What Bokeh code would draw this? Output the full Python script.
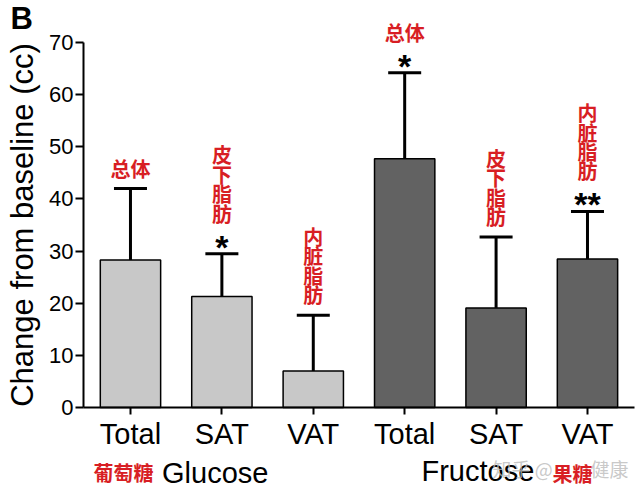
from bokeh.plotting import figure
from bokeh.models import (ColumnDataSource, Range1d, FixedTicker, LabelSet, Label,
                          Whisker, TeeHead)
from bokeh.core.properties import value
from bokeh.embed import file_html
from bokeh.resources import INLINE

# ---- data ----
categories = ["Total", "SAT", "VAT", "Total", "SAT", "VAT"]
groups = ["Glucose", "Glucose", "Glucose", "Fructose", "Fructose", "Fructose"]
means = [28.3, 21.3, 7.0, 47.7, 19.1, 28.5]
upper = [42.0, 29.5, 17.7, 64.2, 32.7, 37.6]
stars = ["", "*", "", "*", "", "**"]
notes = ["总体", "皮下脂肪", "内脏脂肪", "总体", "皮下脂肪", "内脏脂肪"]
group_names = ["Glucose", "Fructose"]
group_cn = ["葡萄糖", "果糖"]
y_ticks = [0, 10, 20, 30, 40, 50, 60, 70]

LATIN = "Liberation Sans"
CJK = "Noto Sans CJK SC"
RED = "#d81e24"

xs = list(range(len(categories)))
colors = ["#c8c8c8" if g == "Glucose" else "#626262" for g in groups]
note_text = ["\n".join(n) if len(n) > 2 else n for n in notes]
note_off = [26 if s else 6 for s in stars]

src = ColumnDataSource(dict(x=xs, top=means, upper=upper, color=colors,
                            note=note_text, note_off=note_off, star=stars))

X0, X1 = -0.514, 5.514   # extent of the drawn x axis
p = figure(width=640, height=495, x_range=Range1d(-1.422, 5.580), y_range=Range1d(-16.88, 78.06),
           output_backend="svg", toolbar_location=None,
           min_border_left=0, min_border_right=0, min_border_top=0, min_border_bottom=0)
p.outline_line_color = None
p.xgrid.visible = False
p.ygrid.visible = False
p.background_fill_color = "white"
p.border_fill_color = "white"

p.vbar(x="x", top="top", bottom=0, width=0.66, source=src, fill_color="color",
       line_color="black", line_width=1.5)

p.add_layout(Whisker(source=src, base="x", lower="top", upper="upper", dimension="height",
                     line_width=3, line_color="black",
                     upper_head=TeeHead(size=33, line_width=3, line_color="black"),
                     lower_head=None))

# axes
xa = p.xaxis[0]
xa.fixed_location = 0
xa.bounds = (X0, X1)
xa.ticker = FixedTicker(ticks=xs)
xa.major_label_overrides = {i: c for i, c in enumerate(categories)}
xa.major_label_text_font = LATIN
xa.major_label_text_font_size = "29px"
xa.major_label_text_color = "black"
xa.major_tick_out = 7
xa.major_tick_in = 0
xa.minor_tick_out = 0
xa.minor_tick_in = 0
xa.axis_line_width = 2
xa.major_tick_line_width = 2
xa.major_label_standoff = 4

ya = p.yaxis[0]
ya.fixed_location = X0
ya.bounds = (0, 70)
ya.ticker = FixedTicker(ticks=y_ticks)
ya.major_label_text_font = LATIN
ya.major_label_text_font_size = "22px"
ya.major_label_text_color = "black"
ya.major_tick_out = 8
ya.major_tick_in = 0
ya.minor_tick_out = 0
ya.minor_tick_in = 0
ya.axis_line_width = 2
ya.major_tick_line_width = 2
ya.major_label_standoff = 2
ya.axis_label = "Change from baseline (cc)"
ya.axis_label_text_font = LATIN
ya.axis_label_text_font_size = "31px"
ya.axis_label_text_font_style = "normal"
ya.axis_label_text_color = "black"
ya.axis_label_standoff = 6

# annotations above bars
p.add_layout(LabelSet(x="x", y="upper", text="note", y_offset="note_off", source=src,
                      text_align="center", text_baseline="bottom",
                      text_font=value(CJK), text_font_size="20px", text_font_style="bold",
                      text_color=RED, text_line_height=0.67))
p.add_layout(LabelSet(x="x", y="upper", text="star", y_offset=-5, source=src,
                      text_align="center", text_baseline="alphabetic",
                      text_font=value(LATIN), text_font_size="34px", text_font_style="bold",
                      text_color="black"))

# panel letter
p.add_layout(Label(x=-1.312, y=74.61, text="B", text_font=LATIN, text_font_size="31px",
                   text_font_style="bold", text_align="left", text_baseline="middle",
                   text_color="black"))

# group labels
p.add_layout(Label(x=-0.077, y=-12.47, text=group_cn[0], text_font=CJK, text_font_size="20px",
                   text_font_style="bold", text_color=RED, text_align="center",
                   text_baseline="middle"))
p.add_layout(Label(x=0.345, y=-12.56, text=group_names[0], text_font=LATIN,
                   text_font_size="29px", text_color="black", text_align="left",
                   text_baseline="middle"))
p.add_layout(Label(x=3.184, y=-12.18, text=group_names[1], text_font=LATIN,
                   text_font_size="29px", text_color="black", text_align="left",
                   text_baseline="middle"))
# watermark
p.add_layout(Label(x=3.961, y=-11.7, text="知乎 @", text_font=CJK, text_font_size="19px",
                   text_color="#bbbbbb", text_alpha=0.8, text_align="left",
                   text_baseline="middle"))
p.add_layout(Label(x=5.033, y=-11.7, text="健康", text_font=CJK, text_font_size="19px",
                   text_color="#bbbbbb", text_alpha=0.8, text_align="left",
                   text_baseline="middle"))
p.add_layout(Label(x=4.836, y=-12.66, text=group_cn[1], text_font=CJK, text_font_size="20px",
                   text_font_style="bold", text_color=RED, text_align="center",
                   text_baseline="middle"))

open("out.html", "w").write(file_html(p, INLINE))
